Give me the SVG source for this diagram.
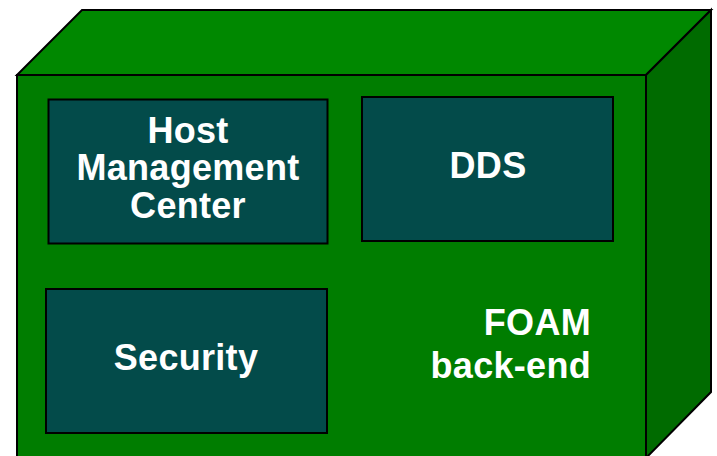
<svg xmlns="http://www.w3.org/2000/svg" width="717" height="456" viewBox="0 0 717 456">
<style>
.face{stroke:#000;stroke-width:2;stroke-linejoin:miter}
.box{fill:#034b4a;stroke:#000;stroke-width:2}
.t{font-family:"Liberation Sans",Arial,sans-serif;font-weight:bold;font-size:36px;letter-spacing:0.3px;fill:#fff}
</style>
<rect width="717" height="456" fill="#fff"/>
<g id="backend">
<polygon class="face" points="17,75 82,10 711,10 646,75" fill="#008800"/>
<polygon class="face" points="646,75 711,10 711,392 646,458" fill="#006b00"/>
<rect class="face" x="17" y="75" width="629" height="384" fill="#007d00"/>
<text class="t" text-anchor="end" x="591" y="335">FOAM</text>
<text class="t" text-anchor="end" x="591" y="378">back-end</text>
</g>
<g id="hmc">
<rect class="box" x="48.5" y="99.5" width="279" height="144"/>
<text class="t" text-anchor="middle" x="188" y="143">Host</text>
<text class="t" text-anchor="middle" x="188" y="180">Management</text>
<text class="t" text-anchor="middle" x="188" y="218">Center</text>
</g>
<g id="dds">
<rect class="box" x="362" y="97" width="251" height="144"/>
<text class="t" text-anchor="middle" x="488" y="178">DDS</text>
</g>
<g id="security">
<rect class="box" x="46" y="289" width="281" height="144"/>
<text class="t" text-anchor="middle" x="186" y="370">Security</text>
</g>
<g id="connectors"/>
</svg>
